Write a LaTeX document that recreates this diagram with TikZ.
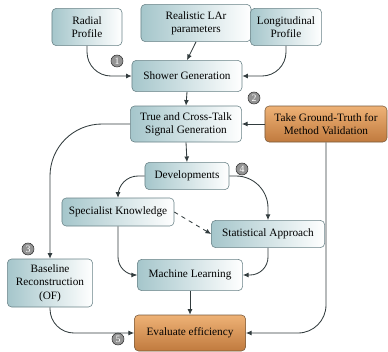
\documentclass[tikz,border=0pt]{standalone}
\usepackage{fontspec}
\setmainfont{Liberation Serif}
\usetikzlibrary{arrows.meta}

\definecolor{tealfill}{RGB}{165,198,203}
\definecolor{boxline}{RGB}{105,130,135}
\definecolor{orangetop}{RGB}{238,178,118}
\definecolor{orangebot}{RGB}{192,122,62}
\definecolor{orangeline}{RGB}{120,90,60}
\definecolor{arrowgray}{RGB}{50,60,62}

\tikzset{
  box/.style={draw=boxline, rounded corners=3pt, left color=tealfill, right color=white,
    align=center, inner sep=1pt, font=\fontsize{8}{9.5}\selectfont},
  goalbox/.style={box, draw=orangeline, top color=orangetop, bottom color=orangebot},
  arr/.style={draw=arrowgray, semithick, -{Latex[length=4pt,width=3.5pt]}},
  stepnum/.style={circle, draw=gray!40!black, fill=gray!85, inner sep=0pt,
    minimum size=0.3cm, font=\fontsize{7}{7}\selectfont, text=white}
}

\begin{document}
\begin{tikzpicture}[x=0.025cm, y=-0.025cm]
        \useasboundingbox (0,0) rectangle (388,351);
        % inputs
        \node[box, minimum width=1.75cm, minimum height=0.93cm] (radial) at (87,27) {Radial\\Profile};
        \node[box, minimum width=2.75cm, minimum height=0.93cm] (lar) at (196,23) {Realistic LAr\\parameters};
        \node[box, minimum width=1.78cm, minimum height=0.93cm] (longi) at (286,27) {Longitudinal\\Profile};
        \node[box, minimum width=2.75cm, minimum height=0.78cm] (shower) at (187,76) {Shower Generation};
        \node[box, minimum width=2.78cm, minimum height=0.9cm] (truesig) at (186,124) {True and Cross-Talk\\Signal Generation};
        \node[goalbox, minimum width=3.05cm, minimum height=0.9cm] (truth) at (326,124) {Take Ground-Truth for\\Method Validation};
        % methods
        \node[box, minimum width=2.1cm, minimum height=0.68cm] (devel) at (187,176) {Developments};
        \node[box, minimum width=2.8cm, minimum height=0.7cm] (special) at (118,212) {Specialist Knowledge};
        \node[box, minimum width=2.83cm, minimum height=0.68cm] (stat) at (268,234) {Statistical Approach};
        \node[box, minimum width=2.13cm, minimum height=1.2cm] (baseline) at (50,283) {Baseline\\Reconstruction\\(OF)};
        \node[box, minimum width=2.63cm, minimum height=0.78cm] (ml) at (190,275) {Machine Learning};
        \node[goalbox, minimum width=2.78cm, minimum height=0.9cm] (evalu) at (190,333) {Evaluate efficiency};
        % step numbers
        \node[stepnum] (n1) at (117,61) {1};
        \node[stepnum] (n2) at (254,98) {2};
        \node[stepnum] (n3) at (28,249) {3};
        \node[stepnum] (n4) at (242,169) {4};
        \node[stepnum] (n5) at (118,339) {5};
        % connectors
        \draw[arr, rounded corners=0.6cm] (radial.south) |- (shower.west);
        \draw[arr] (lar.south) -- (shower.north);
        \draw[arr, rounded corners=0.6cm] (longi.south) |- (shower.east);
        \draw[arr] (shower.south) -- (truesig.north);
        \draw[arr] (truth.west) -- (truesig.east);
        \draw[arr, rounded corners=1.3cm] (truesig.west) -| (baseline.north);
        \draw[arr] (truesig.south) -- (devel.north);
        \draw[arr, rounded corners=0.5cm] (devel.west) -| (special.north);
        \draw[arr, rounded corners=0.8cm] (devel.east) -| (stat.north);
        \draw[arr, dashed] (special.east) -- (stat.west);
        \draw[arr, rounded corners=0.45cm] (special.south) |- (ml.west);
        \draw[arr, rounded corners=0.45cm] (stat.south) |- (ml.east);
        \draw[arr] (ml.south) -- (evalu.north);
        \draw[arr, rounded corners=0.6cm] (baseline.south) |- (evalu.west);
        \draw[arr, rounded corners=0.7cm] (truth.south) |- (evalu.east);
    \end{tikzpicture}
\end{document}
